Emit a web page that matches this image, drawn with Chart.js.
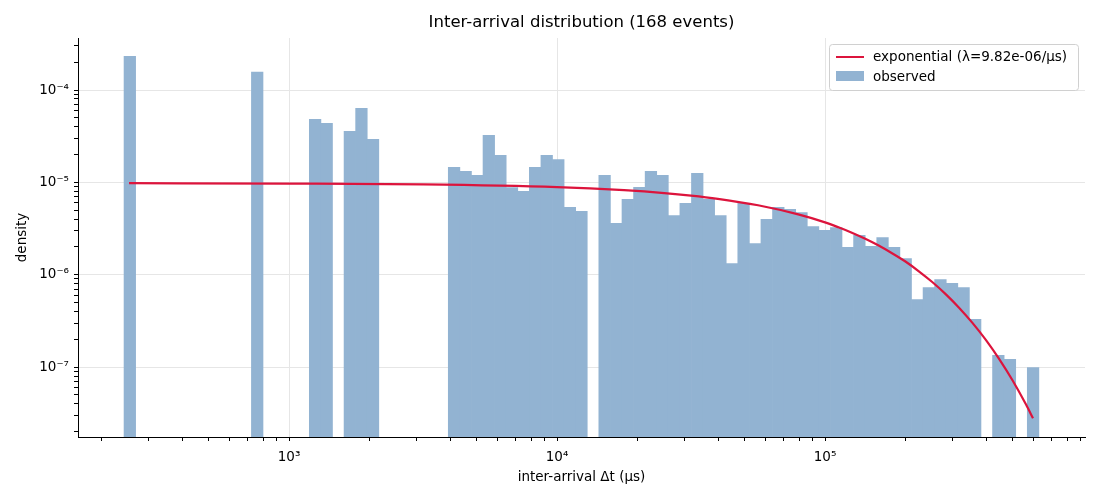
<!DOCTYPE html>
<html><head><meta charset="utf-8">
<script src="https://cdn.jsdelivr.net/npm/chart.js@4/dist/chart.umd.min.js"></script>
<style>body{margin:0;background:#fff}</style></head>
<body><canvas id="c" width="1100" height="500"></canvas>
<script>
const titleText = 'Inter-arrival distribution (168 events)';
const xLabel = 'inter-arrival Δt (μs)';
const yLabel = 'density';
const lineLabel = 'exponential (λ=9.82e-06/μs)';
const barLabel = 'observed';
// histogram bins: log10 of first left edge and log10 bin width
const binStartLog = 2.3843;
const binWidthLog = 0.04321;
const densities = [
 2.32e-4,null,null,null,null,null,null,null,null,null,
 null,1.56e-4,null,null,null,null,4.82e-5,4.35e-5,null,3.57e-5,
 6.34e-5,2.92e-5,null,null,null,null,null,null,1.46e-5,1.32e-5,
 1.19e-5,3.23e-5,1.96e-5,8.8e-6,7.98e-6,1.46e-5,1.96e-5,1.77e-5,5.36e-6,4.85e-6,
 null,1.19e-5,3.6e-6,6.55e-6,8.83e-6,1.32e-5,1.19e-5,4.38e-6,5.92e-6,1.25e-5,
 6.55e-6,4.38e-6,1.32e-6,5.92e-6,2.18e-6,3.97e-6,5.36e-6,5.1e-6,4.7e-6,3.33e-6,
 3.02e-6,3.25e-6,1.98e-6,2.67e-6,2.03e-6,2.53e-6,1.98e-6,1.5e-6,5.4e-7,7.28e-7,
 8.89e-7,8.05e-7,7.28e-7,3.28e-7,null,1.34e-7,1.21e-7,null,9.9e-8
];
// exponential fit curve (x = log10 Δt)
const curveLogT = [2.403,3.0,3.5,4.0,4.25,4.4,4.5,4.6,4.75,4.9,5.0,5.05,5.1,5.15,5.2,5.25,5.3,5.35,5.4,5.45,5.5,5.55,5.6,5.65,5.7,5.75,5.776];
const curveDensity = [9.80e-6,9.72e-6,9.52e-6,8.89e-6,8.23e-6,7.67e-6,7.20e-6,6.64e-6,5.65e-6,4.50e-6,3.69e-6,3.26e-6,2.85e-6,2.45e-6,2.07e-6,1.71e-6,1.39e-6,1.09e-6,8.34e-7,6.17e-7,4.40e-7,3.01e-7,1.97e-7,1.22e-7,7.16e-8,3.93e-8,2.79e-8];

const SUP = {'-':'⁻','0':'⁰','1':'¹','2':'²','3':'³','4':'⁴','5':'⁵','6':'⁶','7':'⁷','8':'⁸','9':'⁹'};
const pow10 = n => '10' + String(n).split('').map(c=>SUP[c]).join('');
const FONT = "'DejaVu Sans', sans-serif";
const barColor = 'rgb(146,179,210)';
const lineColor = '#dc143c';

const barData = densities.map((d,i)=>({x: binStartLog + binWidthLog*(i+0.5), y: d}));
const lineData = curveLogT.map((t,i)=>({x:t, y:curveDensity[i]}));

const overlay = {
  id:'overlay',
  afterDraw(chart){
    const ctx = chart.ctx, ca = chart.chartArea;
    ctx.save();
    ctx.fillStyle='#000';
    ctx.font = '16.5px ' + FONT; ctx.textAlign='center'; ctx.textBaseline='middle';
    ctx.fillText(titleText, (ca.left+ca.right)/2, 23);
    ctx.font = '13.5px ' + FONT;
    ctx.fillText(xLabel, (ca.left+ca.right)/2, 477);
    ctx.save(); ctx.translate(22,(ca.top+ca.bottom)/2); ctx.rotate(-Math.PI/2);
    ctx.fillText(yLabel,0,0); ctx.restore();
    // legend
    const lx=829, ly=44, lw=249, lh=46;
    ctx.fillStyle='rgba(255,255,255,0.85)'; ctx.strokeStyle='#d0d0d0'; ctx.lineWidth=1;
    ctx.beginPath(); ctx.roundRect(lx+0.5,ly+0.5,lw,lh,3); ctx.fill(); ctx.stroke();
    ctx.strokeStyle=lineColor; ctx.lineWidth=2;
    ctx.beginPath(); ctx.moveTo(836,57); ctx.lineTo(864,57); ctx.stroke();
    ctx.fillStyle=barColor; ctx.fillRect(836,71,28,10);
    ctx.fillStyle='#000'; ctx.textAlign='left';
    ctx.fillText(lineLabel, 873, 57);
    ctx.fillText(barLabel, 873, 77);
    ctx.restore();
  }
};

const isInt = v => Math.abs(v-Math.round(v))<1e-9;

new Chart(document.getElementById('c'), {
  type:'bar',
  data:{datasets:[
    {type:'line', label:lineLabel, data:lineData, borderColor:lineColor, borderWidth:2.2, pointRadius:0, cubicInterpolationMode:'monotone', order:0},
    {type:'bar', label:barLabel, data:barData, backgroundColor:barColor, barPercentage:1, categoryPercentage:1, borderWidth:0, order:1}
  ]},
  options:{
    responsive:false, animation:false,
    layout:{padding:{left:0,top:38,right:15,bottom:0}},
    plugins:{legend:{display:false}, title:{display:false}, tooltip:{enabled:false}},
    scales:{
      x:{type:'linear', min:2.2125, max:5.970, offset:false,
        afterFit(s){s.height=63;},
        afterBuildTicks(s){
          const t=[];
          for(let n=2;n<=5;n++) for(let k=1;k<=9;k++){const v=n+Math.log10(k); if(v>=s.min&&v<=s.max) t.push({value:v});}
          s.ticks=t;
        },
        ticks:{autoSkip:false, maxRotation:0, color:'#000', font:{family:FONT,size:13.5}, padding:8,
          callback:v=> isInt(v)? pow10(Math.round(v)) : ''},
        grid:{offset:false, color:c=> c.tick && isInt(c.tick.value) ? '#e6e6e6' : 'rgba(0,0,0,0)', tickColor:'#000', tickLength:4},
        border:{color:'#000', width:1}
      },
      y:{type:'logarithmic', min:1.75e-8, max:3.66e-4,
        afterFit(s){s.width=78;},
        afterBuildTicks(s){
          const t=[];
          for(let n=-8;n<=-4;n++) for(let k=1;k<=9;k++){const v=k*Math.pow(10,n); if(v>=s.min&&v<=s.max) t.push({value:v});}
          s.ticks=t;
        },
        ticks:{autoSkip:false, color:'#000', font:{family:FONT,size:13.5}, padding:5,
          callback:v=>{const l=Math.log10(v); return isInt(l)? pow10(Math.round(l)) : '';}},
        grid:{color:c=> c.tick && isInt(Math.log10(c.tick.value)) ? '#e6e6e6' : 'rgba(0,0,0,0)', tickColor:'#000', tickLength:4},
        border:{color:'#000', width:1}
      }
    }
  },
  plugins:[overlay]
});
</script></body></html>
